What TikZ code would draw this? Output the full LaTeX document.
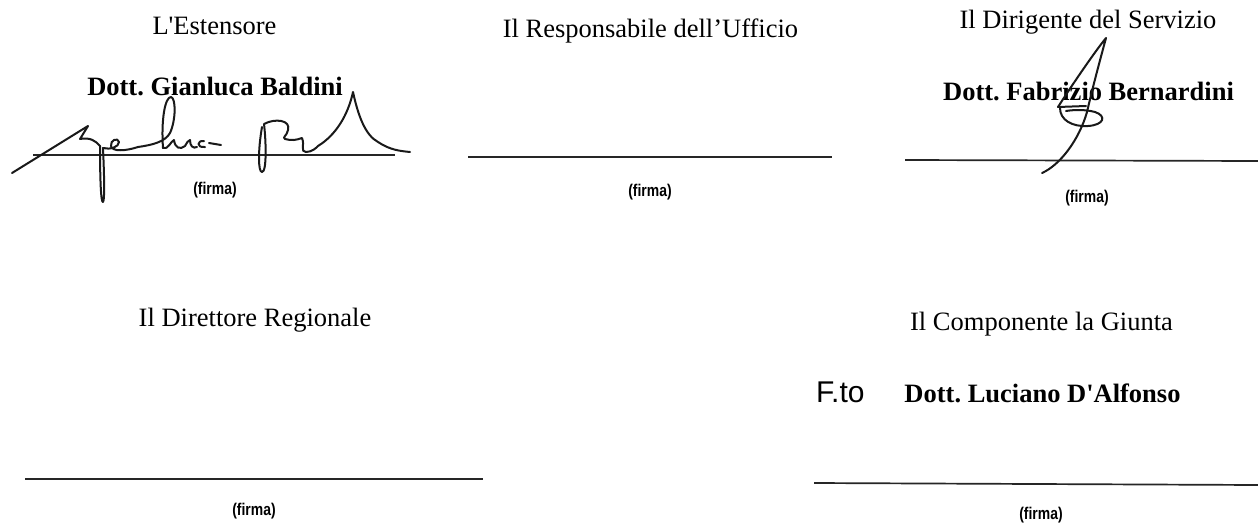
\documentclass[tikz,border=0pt]{standalone}
\usepackage{fontspec}
\setmainfont{Liberation Serif}
\newfontfamily\firmafont[FakeStretch=0.82]{Liberation Sans}
\newfontfamily\ftofont{Liberation Sans}
\frenchspacing
\begin{document}
\begin{tikzpicture}[x=1pt,y=-1pt,
  title/.style={font=\fontsize{26.5}{30}\selectfont, inner sep=0pt, anchor=base},
  pname/.style={font=\fontsize{26.5}{30}\selectfont\bfseries, inner sep=0pt, anchor=base},
  firma/.style={font=\firmafont\bfseries\fontsize{17}{20}\selectfont, inner sep=0pt},
  fto/.style={font=\ftofont\fontsize{30}{34}\selectfont, inner sep=0pt, anchor=base west},
  sigline/.style={line width=1.7pt, black!85},
  sign/.style={line width=2pt, line cap=round, line join=round, black!90}]
\useasboundingbox[fill=white] (0,0) rectangle (1258,525);

% ---- column 1 ----
\node[title] (t1) at (214.5,34) {L\textquotesingle Estensore};
\node[pname] (n1) at (215,95) {Dott. Gianluca Baldini};
\coordinate (l1a) at (33,155); \coordinate (l1b) at (395,155);
\draw[sigline] (l1a) -- (l1b);
\node[firma] (f1) at (215,190) {(firma)};

% ---- column 2 ----
\node[title] (t2) at (650.5,37) {Il Responsabile dell'Ufficio};
\coordinate (l2a) at (468,157); \coordinate (l2b) at (832,157);
\draw[sigline] (l2a) -- (l2b);
\node[firma] (f2) at (650,192) {(firma)};

% ---- column 3 ----
\node[title] (t3) at (1088,28) {Il Dirigente del Servizio};
\node[pname] (n3) at (1088.5,100) {Dott. Fabrizio Bernardini};
\coordinate (l3a) at (905,160); \coordinate (l3b) at (1258,161);
\draw[sigline] (l3a) -- (l3b);
\node[firma] (f3) at (1087,198) {(firma)};

% ---- row 2 left ----
\node[title] (t4) at (255,326) {Il Direttore Regionale};
\coordinate (l4a) at (25,479); \coordinate (l4b) at (483,479);
\draw[sigline] (l4a) -- (l4b);
\node[firma] (f4) at (254,511) {(firma)};

% ---- row 2 right ----
\node[title] (t5) at (1041.5,330) {Il Componente la Giunta};
\node[fto] (fto) at (816,402) {F.to};
\node[pname] (n5) at (1042.5,402) {Dott. Luciano D\textquotesingle Alfonso};
\coordinate (l5a) at (814,483); \coordinate (l5b) at (1258,485);
\draw[sigline] (l5a) -- (l5b);
\node[firma] (f5) at (1041,515) {(firma)};

% ---- signature Baldini ----
\draw[sign] (12,173) -- (88,126) -- (80,139)
  .. controls (90,137) and (96,141) .. (100,146)
  .. controls (100,180) and (101,203) .. (103,202)
  .. controls (105,200) and (104,170) .. (103,148)
  .. controls (110,150) and (119,147) .. (119,142)
  .. controls (118,137) and (110,140) .. (111,146)
  .. controls (112,152) and (126,151) .. (138,147)
  .. controls (152,145) and (165,142) .. (170,133)
  .. controls (176,120) and (176,98) .. (171,97)
  .. controls (165,97) and (161,120) .. (163,148)
  .. controls (168,150) and (171,141) .. (174,140)
  .. controls (175,148) and (180,150) .. (185,146)
  .. controls (187,143) and (188,140) .. (190,140)
  .. controls (190,146) and (193,149) .. (197,147);
\draw[sign] (204,141) .. controls (197,140) and (196,148) .. (205,147);
\draw[sign] (209,143) -- (221,145);
\draw[sign] (262,127)
  .. controls (258,150) and (258,172) .. (262,172)
  .. controls (267,172) and (266,140) .. (264,124)
  .. controls (275,118) and (291,120) .. (288,130)
  .. controls (287,136) and (282,137) .. (285,139)
  .. controls (292,141) and (296,140) .. (302,138)
  .. controls (305,145) and (300,152) .. (306,152)
  .. controls (312,152) and (316,148) .. (318,146)
  .. controls (336,135) and (348,115) .. (353,92)
  .. controls (358,115) and (365,135) .. (378,142)
  .. controls (390,150) and (400,151) .. (410,152);

% ---- signature Bernardini ----
\draw[sign] (1058,107) .. controls (1072,85) and (1096,50) .. (1106,38)
  .. controls (1100,60) and (1092,90) .. (1087,112)
  .. controls (1079,140) and (1060,165) .. (1042,173);
\draw[sign] (1058,107) -- (1086,106);
\draw[sign] (1060,108) .. controls (1060,120) and (1072,127) .. (1088,126)
  .. controls (1104,125) and (1107,116) .. (1095,112)
  .. controls (1084,109) and (1072,110) .. (1066,111);
\end{tikzpicture}
\end{document}
